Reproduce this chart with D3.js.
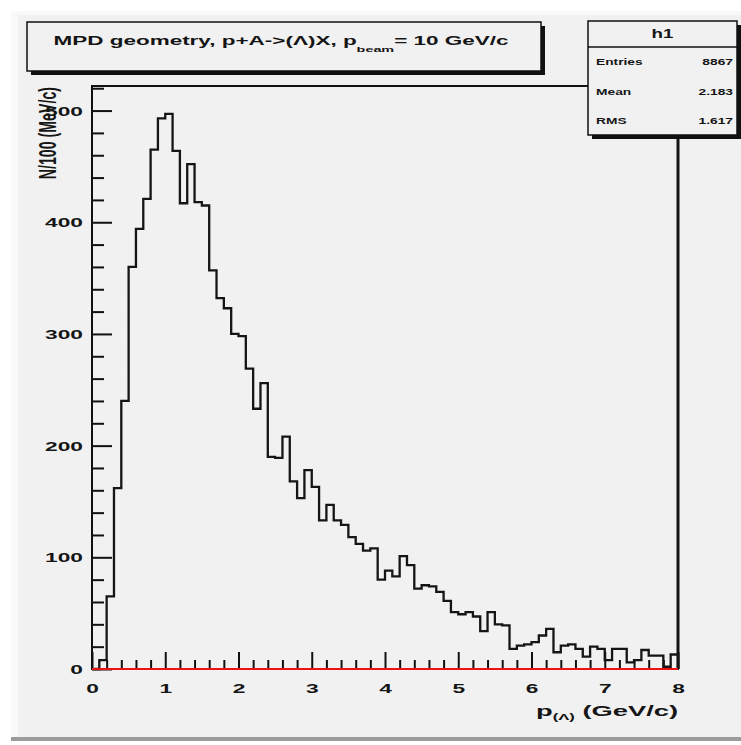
<!DOCTYPE html>
<html>
<head>
<meta charset="utf-8">
<script src="https://cdn.jsdelivr.net/npm/d3@7/dist/d3.min.js"></script>
<style>
  body { margin: 0; background: #fff; }
  svg { display: block; }
  text { font-family: "Liberation Sans", Arial, sans-serif; font-weight: bold; fill: #151515; }
</style>
</head>
<body>
<div id="chart"></div>
<script>
// Histogram h1: Lambda momentum, 80 bins of 0.1 GeV/c from 0 to 8
const xRange = [0, 8];
const binWidth = 0.1;
const counts = [
  0, 8, 65, 162, 240, 360, 394, 421, 465, 493,
  497, 464, 417, 452, 418, 415, 357, 332, 323, 300,
  298, 269, 233, 256, 190, 189, 208, 168, 153, 178,
  163, 133, 147, 133, 129, 118, 112, 106, 108, 80,
  88, 83, 101, 93, 72, 75, 74, 69, 61, 51,
  49, 51, 47, 34, 51, 40, 39, 18, 21, 22,
  24, 30, 36, 15, 21, 22, 18, 11, 20, 18,
  8, 18, 18, 6, 8, 17, 12, 12, 2, 13
];
const xTicks = [0, 1, 2, 3, 4, 5, 6, 7, 8];
const yTicks = [0, 100, 200, 300, 400, 500];
const yMax = 522;
const statsRows = [["Entries", "8867"], ["Mean", "2.183"], ["RMS", "1.617"]];
const histName = "h1";

const W = 741, H = 745;
const frame = { left: 92, right: 678, top: 86, bottom: 669 };
const stretch = 1.75;   // glyphs are drawn wide

const svg = d3.select("#chart").append("svg").attr("width", W).attr("height", H);

// canvas with bevelled border
svg.append("rect").attr("x", 0).attr("y", 0).attr("width", W).attr("height", H).attr("fill", "#ffffff");
svg.append("rect").attr("x", 11).attr("y", 11).attr("width", W - 11).attr("height", H - 15).attr("fill", "#f9f9f9");
svg.append("rect").attr("x", 18).attr("y", 15).attr("width", W - 18).attr("height", H - 23).attr("fill", "#f1f1f1");
svg.append("rect").attr("x", 11).attr("y", H - 8).attr("width", W - 11).attr("height", 4).attr("fill", "#9c9c9c");

const x = d3.scaleLinear().domain(xRange).range([frame.left, frame.right]);
const y = d3.scaleLinear().domain([0, yMax]).range([frame.bottom, frame.top]);

function widen(sel, k) {
  sel.each(function () {
    const t = d3.select(this);
    const tx = +t.attr("x") || 0, ty = +t.attr("y") || 0;
    t.attr("x", 0).attr("y", 0).attr("transform", `translate(${tx},${ty}) scale(${k},1)`);
  });
}

// frame
svg.append("rect")
  .attr("x", frame.left).attr("y", frame.top)
  .attr("width", frame.right - frame.left).attr("height", frame.bottom - frame.top)
  .attr("fill", "none").attr("stroke", "#111").attr("stroke-width", 2);

// y axis, ticks pointing into the frame
const yMinor = d3.range(0, yMax, 20).filter(v => v % 100 !== 0);
const yAxisMinor = svg.append("g").attr("transform", `translate(${frame.left},0)`)
  .call(d3.axisLeft(y).tickValues(yMinor).tickSize(-12).tickFormat(""));
const yAxis = svg.append("g").attr("transform", `translate(${frame.left},0)`)
  .call(d3.axisLeft(y).tickValues(yTicks).tickSize(-20).tickPadding(9).tickFormat(d3.format("d")));
[yAxis, yAxisMinor].forEach(g => {
  g.select(".domain").remove();
  g.selectAll("line").attr("stroke", "#111").attr("stroke-width", 2);
});
yAxis.selectAll("text").attr("font-size", 13).attr("font-family", null).attr("dy", "0.36em");
widen(yAxis.selectAll("text"), stretch);

// x axis, ticks pointing up
const xMinor = d3.range(0.2, 8, 0.2).filter(v => Math.abs(v - Math.round(v)) > 1e-6);
const xAxisMinor = svg.append("g").attr("transform", `translate(0,${frame.bottom})`)
  .call(d3.axisBottom(x).tickValues(xMinor).tickSize(-9).tickFormat(""));
const xAxis = svg.append("g").attr("transform", `translate(0,${frame.bottom})`)
  .call(d3.axisBottom(x).tickValues(xTicks).tickSize(-17).tickPadding(15).tickFormat(d3.format("d")));
[xAxis, xAxisMinor].forEach(g => {
  g.select(".domain").remove();
  g.selectAll("line").attr("stroke", "#111").attr("stroke-width", 2);
});
xAxis.selectAll("text").attr("font-size", 13).attr("font-family", null);
widen(xAxis.selectAll("text"), stretch);

// histogram outline
const pts = [[xRange[0], 0]];
counts.forEach((c, i) => pts.push([xRange[0] + i * binWidth, c]));
pts.push([xRange[1], counts[counts.length - 1]]);
pts.push([xRange[1], 0]);
const line = d3.line().x(d => x(d[0])).y(d => y(d[1])).curve(d3.curveStepAfter);
svg.append("path").attr("d", line(pts))
  .attr("fill", "none").attr("stroke", "#151515").attr("stroke-width", 2.3);

// right edge of frame drawn heavy
svg.append("line").attr("x1", frame.right).attr("x2", frame.right)
  .attr("y1", frame.top).attr("y2", frame.bottom)
  .attr("stroke", "#151515").attr("stroke-width", 3);

// zero line in red
svg.append("line").attr("x1", x(xRange[0])).attr("x2", x(xRange[1]))
  .attr("y1", y(0)).attr("y2", y(0))
  .attr("stroke", "#ee1111").attr("stroke-width", 2);

// axis titles
svg.append("text")
  .attr("transform", `translate(47,${frame.top + 1}) scale(${stretch},1) rotate(-90)`)
  .attr("text-anchor", "end").attr("dy", "0.35em").attr("font-size", 14.2)
  .text("N/100 (MeV/c)");

const xTitle = svg.append("text")
  .attr("text-anchor", "end").attr("font-size", 14)
  .attr("transform", `translate(${frame.right},716) scale(1.95,1)`);
xTitle.append("tspan").text("p");
xTitle.append("tspan").attr("font-size", 8.5).attr("dy", 4).text("(\u039B)");
xTitle.append("tspan").attr("dy", -4).text(" (GeV/c)");

// title box
const tb = { x: 27, y: 22, w: 514, h: 49 };
svg.append("rect").attr("x", tb.x + 4).attr("y", tb.y + 4).attr("width", tb.w).attr("height", tb.h).attr("fill", "#111");
svg.append("rect").attr("x", tb.x).attr("y", tb.y).attr("width", tb.w).attr("height", tb.h)
  .attr("fill", "#f1f1f1").attr("stroke", "#111").attr("stroke-width", 1.5);
const title = svg.append("text").attr("text-anchor", "middle").attr("font-size", 12.5)
  .attr("transform", `translate(281,45) scale(1.8,1)`);
title.append("tspan").text("MPD geometry, p+A->(\u039B)X, p");
title.append("tspan").attr("font-size", 8).attr("dy", 7).text("beam");
title.append("tspan").attr("dy", -7).text("= 10 GeV/c");

// statistics box
const sb = { x: 588, y: 21, w: 149, h: 114 };
svg.append("rect").attr("x", sb.x + 4).attr("y", sb.y + 4).attr("width", sb.w).attr("height", sb.h).attr("fill", "#111");
svg.append("rect").attr("x", sb.x).attr("y", sb.y).attr("width", sb.w).attr("height", sb.h)
  .attr("fill", "#f1f1f1").attr("stroke", "#111").attr("stroke-width", 1.5);
svg.append("line").attr("x1", sb.x).attr("x2", sb.x + sb.w).attr("y1", 47).attr("y2", 47)
  .attr("stroke", "#111").attr("stroke-width", 1.5);
svg.append("text").attr("text-anchor", "middle").attr("font-size", 12.5).attr("dy", "0.35em")
  .attr("transform", `translate(${sb.x + sb.w / 2},34) scale(1.5,1)`).text(histName);
const rowY = d3.scalePoint().domain(statsRows.map(r => r[0])).range([62, 121]);
statsRows.forEach(([k, v]) => {
  svg.append("text").attr("font-size", 9.5).attr("dy", "0.35em")
    .attr("transform", `translate(${sb.x + 8},${rowY(k)}) scale(1.45,1)`).text(k);
  svg.append("text").attr("font-size", 9.5).attr("dy", "0.35em").attr("text-anchor", "end")
    .attr("transform", `translate(${sb.x + sb.w - 4},${rowY(k)}) scale(1.45,1)`).text(v);
});
</script>
</body>
</html>
